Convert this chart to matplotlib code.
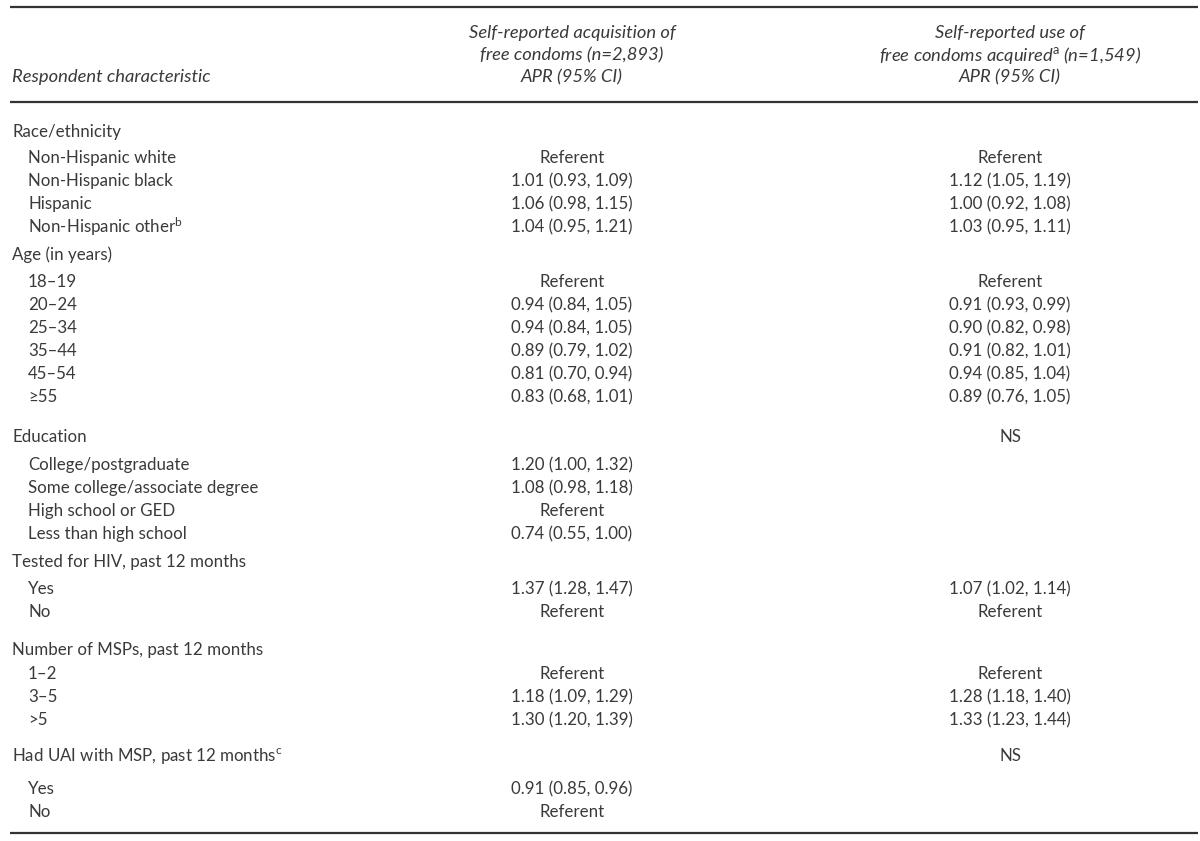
import matplotlib.pyplot as plt

plt.rcParams['font.family'] = ['Lato', 'DejaVu Sans']
plt.rcParams['mathtext.fontset'] = 'custom'
plt.rcParams['mathtext.rm'] = 'Lato'
plt.rcParams['mathtext.it'] = 'Lato:italic'

# table content
labels = ["Race/ethnicity", "Non-Hispanic white", "Non-Hispanic black", "Hispanic",
          "Non-Hispanic other$^{\\mathrm{b}}$",
          "Age (in years)", "18\u201319", "20\u201324", "25\u201334", "35\u201344", "45\u201354", "\u226555",
          "Education", "College/postgraduate", "Some college/associate degree",
          "High school or GED", "Less than high school",
          "Tested for HIV, past 12 months", "Yes", "No",
          "Number of MSPs, past 12 months", "1\u20132", "3\u20135", ">5",
          "Had UAI with MSP, past 12 months$^{\\mathrm{c}}$", "Yes", "No"]
is_header = [1, 0, 0, 0, 0,
             1, 0, 0, 0, 0, 0, 0,
             1, 0, 0, 0, 0,
             1, 0, 0,
             1, 0, 0, 0,
             1, 0, 0]
acquisition = ["", "Referent", "1.01 (0.93, 1.09)", "1.06 (0.98, 1.15)", "1.04 (0.95, 1.21)",
               "", "Referent", "0.94 (0.84, 1.05)", "0.94 (0.84, 1.05)", "0.89 (0.79, 1.02)",
               "0.81 (0.70, 0.94)", "0.83 (0.68, 1.01)",
               "", "1.20 (1.00, 1.32)", "1.08 (0.98, 1.18)", "Referent", "0.74 (0.55, 1.00)",
               "", "1.37 (1.28, 1.47)", "Referent",
               "", "Referent", "1.18 (1.09, 1.29)", "1.30 (1.20, 1.39)",
               "", "0.91 (0.85, 0.96)", "Referent"]
use = ["", "Referent", "1.12 (1.05, 1.19)", "1.00 (0.92, 1.08)", "1.03 (0.95, 1.11)",
       "", "Referent", "0.91 (0.93, 0.99)", "0.90 (0.82, 0.98)", "0.91 (0.82, 1.01)",
       "0.94 (0.85, 1.04)", "0.89 (0.76, 1.05)",
       "NS", "", "", "", "",
       "", "1.07 (1.02, 1.14)", "Referent",
       "", "Referent", "1.28 (1.18, 1.40)", "1.33 (1.23, 1.44)",
       "NS", "", ""]

# vertical position of each row (pixels from top)
row_y = [132, 158, 181, 204, 227,
         255, 282, 305, 328, 351, 374, 397,
         437, 465, 488, 511, 534,
         562, 589, 612,
         650, 674, 697, 720,
         756, 789, 812]

col_x = [572, 1010]
ink = '#3a3a3a'
fs = 12.2
hfs = 13.2

fig = plt.figure(figsize=(12, 8.41), dpi=100)
ax = fig.add_axes([0, 0, 1, 1])
ax.set_xlim(0, 1200)
ax.set_ylim(841, 0)
ax.axis('off')

for yl in [7, 102, 833]:
    ax.plot([10, 1198], [yl, yl], color='#333333', lw=1.6, solid_capstyle='butt')

# column headers
ax.text(12, 77, "Respondent characteristic", style='italic', fontsize=hfs, color=ink, va='center')
ax.text(col_x[0], 33, "Self-reported acquisition of", style='italic', fontsize=hfs, color=ink,
        ha='center', va='center')
ax.text(col_x[0], 55, "free condoms (n=2,893)", style='italic', fontsize=hfs, color=ink,
        ha='center', va='center')
ax.text(col_x[0], 77, "APR (95% CI)", style='italic', fontsize=hfs, color=ink, ha='center', va='center')
ax.text(col_x[1], 33, "Self-reported use of", style='italic', fontsize=hfs, color=ink,
        ha='center', va='center')
ax.text(col_x[1], 55, "free condoms acquired$^{\\mathrm{a}}$ (n=1,549)", style='italic', fontsize=hfs,
        color=ink, ha='center', va='center')
ax.text(col_x[1], 77, "APR (95% CI)", style='italic', fontsize=hfs, color=ink, ha='center', va='center')

for lab, hdr, a, u, y in zip(labels, is_header, acquisition, use, row_y):
    ax.text(12 if hdr else 28, y, lab, fontsize=fs, color=ink, va='center')
    if a:
        ax.text(col_x[0], y, a, fontsize=fs, color=ink, ha='center', va='center')
    if u:
        ax.text(col_x[1], y, u, fontsize=fs, color=ink, ha='center', va='center')

fig.savefig("out.png", dpi=100)
